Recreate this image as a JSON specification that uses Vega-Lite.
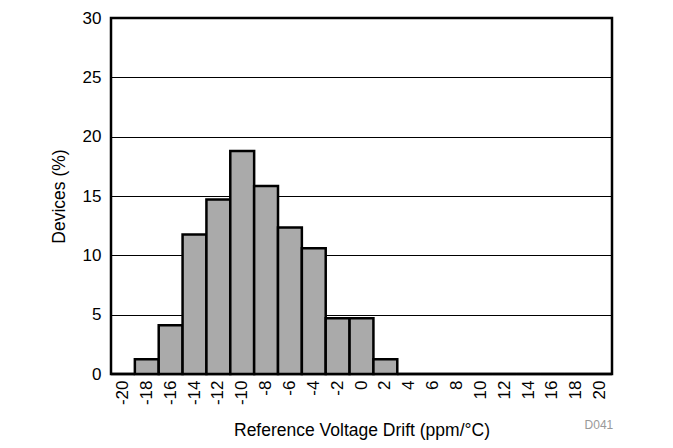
{
  "$schema": "https://vega.github.io/schema/vega-lite/v6.json",
  "width": 501,
  "height": 356,
  "autosize": "none",
  "padding": {"left": 111, "top": 18, "right": 61, "bottom": 74},
  "background": "white",
  "config": {
    "font": "Liberation Sans",
    "view": {"stroke": "black", "strokeWidth": 2.5},
    "axis": {"labelFont": "Liberation Sans", "titleFont": "Liberation Sans", "labelColor": "black", "titleColor": "black", "titleFontWeight": "normal", "labelFontSize": 17, "titleFontSize": 17.5, "domain": false, "ticks": false}
  },
  "title": {"text": "D041", "orient": "bottom", "anchor": "end", "color": "#999999", "fontSize": 12, "fontWeight": "normal", "font": "Liberation Sans", "offset": -19},
  "data": {"values": [
    {"drift": "-20", "pct": 0},
    {"drift": "-18", "pct": 1.25},
    {"drift": "-16", "pct": 4.1},
    {"drift": "-14", "pct": 11.75},
    {"drift": "-12", "pct": 14.7},
    {"drift": "-10", "pct": 18.8},
    {"drift": "-8", "pct": 15.85},
    {"drift": "-6", "pct": 12.35},
    {"drift": "-4", "pct": 10.6},
    {"drift": "-2", "pct": 4.7},
    {"drift": "0", "pct": 4.7},
    {"drift": "2", "pct": 1.25},
    {"drift": "4", "pct": 0},
    {"drift": "6", "pct": 0},
    {"drift": "8", "pct": 0},
    {"drift": "10", "pct": 0},
    {"drift": "12", "pct": 0},
    {"drift": "14", "pct": 0},
    {"drift": "16", "pct": 0},
    {"drift": "18", "pct": 0},
    {"drift": "20", "pct": 0}
  ]},
  "mark": {"type": "bar", "fill": "#aaaaaa", "stroke": "black", "strokeWidth": 2.5},
  "encoding": {
    "x": {
      "field": "drift", "type": "ordinal", "sort": null,
      "scale": {"paddingInner": 0, "paddingOuter": 0},
      "axis": {"title": "Reference Voltage Drift (ppm/°C)", "labelAngle": -90, "labelAlign": "right", "labelBaseline": "middle", "labelPadding": 6, "titlePadding": 17, "grid": false}
    },
    "y": {
      "field": "pct", "type": "quantitative",
      "scale": {"domain": [0, 30]},
      "axis": {"title": "Devices (%)", "values": [0, 5, 10, 15, 20, 25, 30], "labelPadding": 10, "titlePadding": 14, "grid": true, "gridColor": "black", "gridWidth": 1, "gridOpacity": 1}
    }
  }
}
